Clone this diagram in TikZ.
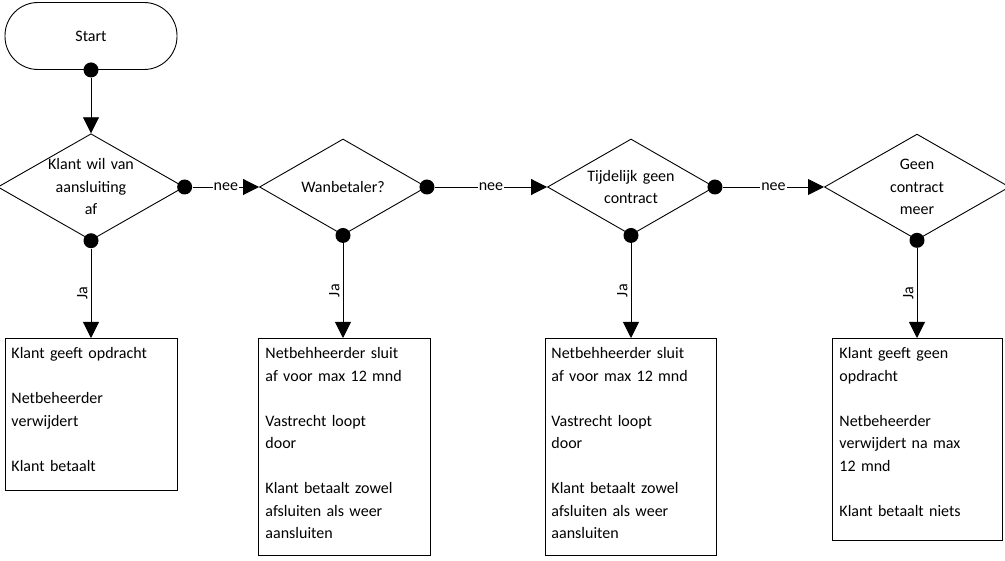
\documentclass[tikz,border=0pt]{standalone}
\usepackage{fontspec}
\setmainfont{Carlito}
\usetikzlibrary{shapes.geometric,arrows.meta}
\begin{document}
\begin{tikzpicture}[x=1pt,y=-1pt,font=\fontsize{16}{22.5}\selectfont,line width=0.9pt,
  dec/.style={diamond,draw,aspect=1.75,minimum width=167pt,minimum height=96pt,inner sep=0pt,align=center,text width=88pt},
  box/.style={draw,anchor=north west,minimum width=#1,inner sep=0pt},
  inbox/.style={anchor=north west,align=left,inner sep=0pt,text width=165pt},
  dot/.style={circle,fill=black,inner sep=0pt,minimum size=15pt},
  arr/.style={-{Triangle[length=16pt,width=16pt]}},
  lbl/.style={fill=white,inner sep=1pt}]
\useasboundingbox (0,0) rectangle (1005,561);
\node[draw,rounded corners=33pt,minimum width=172pt,minimum height=67pt] (s) at (91,36) {Start};
\node[dec] (d1) at (91,187) {Klant wil van\\aansluiting af};
\node[dec] (d2) at (343,187) {Wanbetaler?};
\node[dec] (d3) at (631,187) {Tijdelijk geen\\contract};
\node[dec] (d4) at (917,187) {Geen contract\\meer};
\node[dot] (sd) at (s.south) {};
\draw[arr] (sd) -- (d1.north);
\foreach \d/\n in {d1/d2,d2/d3,d3/d4}{
  \node[dot] (\d r) at (\d.east) {};
  \draw[arr] (\d r) -- node[lbl]{nee} (\n.west);
}
\foreach \d in {d1,d2,d3,d4}{\node[dot] (\d b) at (\d.south) {};}
\node[box=172pt,minimum height=152pt] (b1) at (5,338) {};
\node[box=172pt,minimum height=217pt] (b2) at (258,338) {};
\node[box=171pt,minimum height=217pt] (b3) at (545,338) {};
\node[box=170pt,minimum height=202pt] (b4) at (832,338) {};
\node[inbox] (t1) at (11,347) {Klant geeft opdracht\\[22.5pt]Netbeheerder\\verwijdert\\[22.5pt]Klant betaalt};
\node[inbox] (t2) at (265,347) {Netbehheerder sluit\\af voor max 12 mnd\\[22.5pt]Vastrecht loopt\\door\\[22.5pt]Klant betaalt zowel\\afsluiten als weer\\aansluiten};
\node[inbox] (t3) at (551,347) {Netbehheerder sluit\\af voor max 12 mnd\\[22.5pt]Vastrecht loopt\\door\\[22.5pt]Klant betaalt zowel\\afsluiten als weer\\aansluiten};
\node[inbox] (t4) at (839,347) {Klant geeft geen\\opdracht\\[22.5pt]Netbeheerder\\verwijdert na max\\12 mnd\\[22.5pt]Klant betaalt niets};
\foreach \d/\b in {d1/b1,d2/b2,d3/b3,d4/b4}{
  \draw[arr] (\d b) -- node[rotate=90,anchor=south,lbl,fill=none,yshift=2pt]{Ja} (\b.north -| \d b);
}
\end{tikzpicture}
\end{document}
